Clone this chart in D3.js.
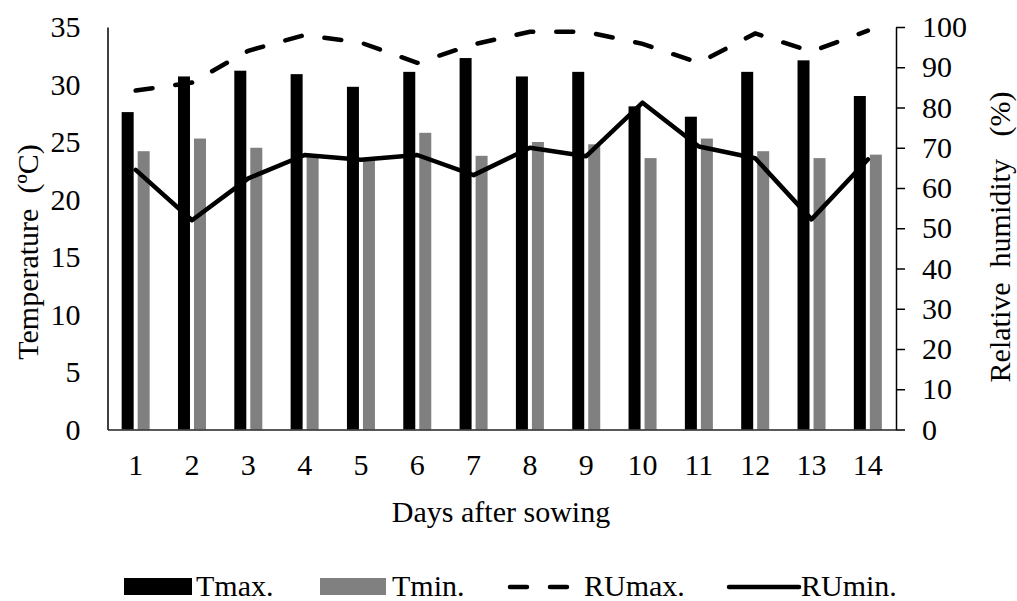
<!DOCTYPE html>
<html>
<head>
<meta charset="utf-8">
<script src="https://cdn.jsdelivr.net/npm/d3@7"></script>
<style>
  body { margin: 0; background: #fff; }
  svg { font-family: "Liberation Serif", "Times New Roman", serif; }
  text { white-space: pre; }
</style>
</head>
<body>
<div id="chart"></div>
<script>
"use strict"

// days after sowing
const days = [1, 2, 3, 4, 5, 6, 7, 8, 9, 10, 11, 12, 13, 14]
// temperatures (ºC)
const tmax = [27.6, 30.7, 31.2, 30.9, 29.8, 31.1, 32.3, 30.7, 31.1, 28.1, 27.2, 31.1, 32.1, 29.0]
const tmin = [24.2, 25.3, 24.5, 23.7, 23.4, 25.8, 23.8, 25.0, 24.8, 23.6, 25.3, 24.2, 23.6, 23.9]
// relative humidity (%)
const rumax = [84.2, 86.2, 94.1, 98.0, 96.1, 91.1, 95.7, 98.8, 98.8, 95.8, 91.1, 98.4, 93.9, 99.1]
const rumin = [64.5, 52.0, 62.4, 68.2, 67.0, 68.2, 63.2, 70.0, 67.9, 81.2, 70.3, 67.4, 52.2, 67.1]

const tempTicks = [0, 5, 10, 15, 20, 25, 30, 35]
const humTicks = [0, 10, 20, 30, 40, 50, 60, 70, 80, 90, 100]

const W = 1017, H = 601
const FS = 30
const plot = {left: 107.5, right: 896, top: 27, bottom: 429.5}

const svg = d3.select("#chart")
  .append("svg")
  .attr("width", W)
  .attr("height", H)

const x = d3.scaleBand()
  .domain(days)
  .range([plot.left, plot.right])
  .padding(0)

const yT = d3.scaleLinear()
  .domain([0, 35])
  .range([plot.bottom, plot.top])

const yH = d3.scaleLinear()
  .domain([0, 100])
  .range([plot.bottom, plot.top])

const cx = d => x(d) + x.bandwidth() / 2

// bars
svg.append("g")
  .selectAll("rect")
  .data(days)
  .join("rect")
    .attr("x", (d, i) => cx(d) - 14)
    .attr("y", (d, i) => yT(tmax[i]))
    .attr("width", 12)
    .attr("height", (d, i) => yT(0) - yT(tmax[i]))
    .attr("fill", "#000")

svg.append("g")
  .selectAll("rect")
  .data(days)
  .join("rect")
    .attr("x", (d, i) => cx(d) + 2)
    .attr("y", (d, i) => yT(tmin[i]))
    .attr("width", 12)
    .attr("height", (d, i) => yT(0) - yT(tmin[i]))
    .attr("fill", "#808080")

// left axis (no ticks)
const leftAxis = svg.append("g")
  .attr("transform", "translate(" + plot.left + ",0)")
  .call(d3.axisLeft(yT).tickValues(tempTicks).tickSize(0).tickPadding(27))
leftAxis.select(".domain").attr("stroke", "#000").attr("stroke-width", 1.5)

// right axis
const rightAxis = svg.append("g")
  .attr("transform", "translate(" + plot.right + ",0)")
  .call(d3.axisRight(yH).tickValues(humTicks).tickSize(9).tickSizeOuter(0).tickPadding(17))
rightAxis.select(".domain").attr("stroke", "#000").attr("stroke-width", 1.5)
rightAxis.selectAll(".tick line").attr("stroke", "#000").attr("stroke-width", 1.5)

// bottom axis
const bottomAxis = svg.append("g")
  .attr("transform", "translate(0," + plot.bottom + ")")
  .call(d3.axisBottom(x).tickSize(0).tickSizeOuter(0).tickPadding(24))
bottomAxis.select(".domain").attr("stroke", "#222").attr("stroke-width", 1.5)

svg.selectAll(".tick text")
  .attr("font-family", "Liberation Serif, serif")
  .attr("font-size", FS)
  .attr("fill", "#000")

// lines
const line = vals => d3.line()
  .x(d => cx(d))
  .y((d, i) => yH(vals[i]))(days)

svg.append("path")
  .attr("d", line(rumax))
  .attr("fill", "none")
  .attr("stroke", "#000")
  .attr("stroke-width", 4.5)
  .attr("stroke-linecap", "round")
  .attr("stroke-dasharray", "17 23")

svg.append("path")
  .attr("d", line(rumin))
  .attr("fill", "none")
  .attr("stroke", "#000")
  .attr("stroke-width", 4.5)
  .attr("stroke-linejoin", "round")
  .attr("stroke-linecap", "round")

// axis titles
svg.append("text")
  .attr("transform", "translate(38,252) rotate(-90)")
  .attr("text-anchor", "middle")
  .attr("font-size", FS)
  .text("Temperature  (ºC)")

svg.append("text")
  .attr("transform", "translate(1010,237) rotate(-90)")
  .attr("text-anchor", "middle")
  .attr("font-size", FS)
  .text("Relative  humidity   (%)")

svg.append("text")
  .attr("x", 501)
  .attr("y", 522)
  .attr("text-anchor", "middle")
  .attr("font-size", FS)
  .text("Days after sowing")

// legend
const lg = svg.append("g").attr("font-size", FS)
lg.append("rect").attr("x", 124).attr("y", 578).attr("width", 68).attr("height", 17).attr("fill", "#000")
lg.append("text").attr("x", 196).attr("y", 596).text("Tmax.")
lg.append("rect").attr("x", 320).attr("y", 578).attr("width", 66).attr("height", 17).attr("fill", "#808080")
lg.append("text").attr("x", 392).attr("y", 596).text("Tmin.")
lg.append("line").attr("x1", 510).attr("x2", 570).attr("y1", 587).attr("y2", 587)
  .attr("stroke", "#000").attr("stroke-width", 4.5).attr("stroke-linecap", "round")
  .attr("stroke-dasharray", "17 23")
lg.append("text").attr("x", 584).attr("y", 596).text("RUmax.")
lg.append("line").attr("x1", 729).attr("x2", 799).attr("y1", 587).attr("y2", 587)
  .attr("stroke", "#000").attr("stroke-width", 4.5).attr("stroke-linecap", "round")
lg.append("text").attr("x", 801).attr("y", 596).text("RUmin.")
</script>
</body>
</html>
